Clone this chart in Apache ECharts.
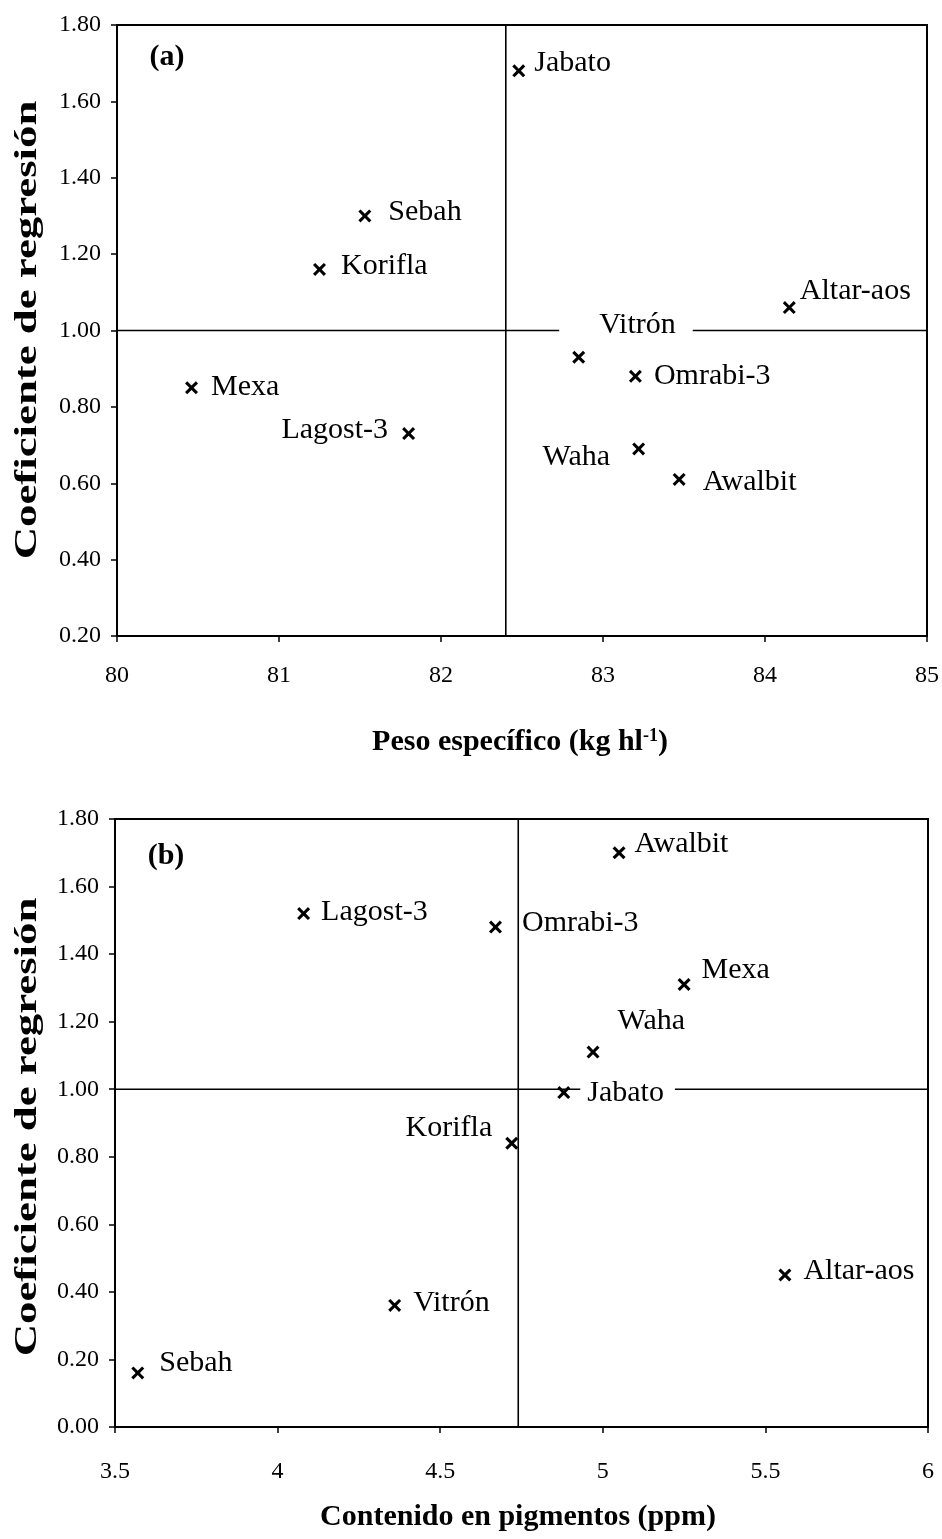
<!DOCTYPE html>
<html>
<head>
<meta charset="utf-8">
<title>Coeficiente de regresión</title>
<script src="https://cdn.jsdelivr.net/npm/echarts@6/dist/echarts.min.js"></script>
<style>
  html, body { margin: 0; padding: 0; background: #fff; }
  #chart { width: 942px; height: 1539px; }
</style>
</head>
<body>
<div id="chart"></div>
<script>
// ---- data: panel (a) peso específico vs coeficiente de regresión ----
const cultivaresA = ['Jabato', 'Sebah', 'Korifla', 'Altar-aos', 'Vitrón', 'Omrabi-3', 'Waha', 'Awalbit', 'Mexa', 'Lagost-3'];
const pesoEspecifico = [82.48, 81.53, 81.25, 84.15, 82.85, 83.20, 83.22, 83.47, 80.46, 81.80];
const coefA = [1.68, 1.30, 1.16, 1.06, 0.93, 0.88, 0.69, 0.61, 0.85, 0.73];
const referenciaA = [82.4, 1.0];          // vertical (x) and horizontal (y) reference lines
const ejeXA = [80, 85, 1];                // min, max, interval
const ejeYA = [0.2, 1.8, 0.2];

// ---- data: panel (b) contenido en pigmentos vs coeficiente de regresión ----
const cultivaresB = ['Awalbit', 'Lagost-3', 'Omrabi-3', 'Mexa', 'Waha', 'Jabato', 'Korifla', 'Altar-aos', 'Vitrón', 'Sebah'];
const pigmentos = [5.05, 4.08, 4.67, 5.25, 4.97, 4.88, 4.72, 5.56, 4.36, 3.57];
const coefB = [1.70, 1.52, 1.48, 1.31, 1.11, 0.99, 0.84, 0.45, 0.36, 0.16];
const referenciaB = [4.74, 1.0];
const ejeXB = [3.5, 6, 0.5];
const ejeYB = [0, 1.8, 0.2];

// ---- label placement (position, distance, shift [dx, dy], optional white box padding) ----
const etiquetasA = {
  'Jabato':    ['right', 9,  [0, -8]],
  'Sebah':     ['right', 17, [0, -4]],
  'Korifla':   ['right', 15, [0, -3]],
  'Altar-aos': ['right', 4,  [0, -16]],
  'Vitrón':    ['right', -26, [0, -32], [0, 17, 0, 40]],
  'Omrabi-3':  ['right', 12, [0, 0]],
  'Waha':      ['left',  22, [0, 8]],
  'Awalbit':   ['right', 17, [0, 3]],
  'Mexa':      ['right', 13, [0, -1]],
  'Lagost-3':  ['left',  14, [0, -3]]
};
const etiquetasB = {
  'Awalbit':   ['right', 9,  [0, -9]],
  'Lagost-3':  ['right', 11, [0, -1]],
  'Omrabi-3':  ['right', 20, [0, -4]],
  'Mexa':      ['right', 11, [0, -14]],
  'Waha':      ['right', 18, [0, -31]],
  'Jabato':    ['right', 10, [0, 1], [0, 11, 0, 7]],
  'Korifla':   ['left',  13, [0, -15]],
  'Altar-aos': ['right', 12, [0, -4]],
  'Vitrón':    ['right', 12, [0, -2]],
  'Sebah':     ['right', 15, [0, -10]]
};

const SERIF = '"Liberation Serif", "Times New Roman", serif';
const CRUZ = 'path://M2,0 L6,4 L10,0 L12,2 L8,6 L12,10 L10,12 L6,8 L2,12 L0,10 L4,6 L0,2 Z';

function puntos(nombres, xs, ys, etiquetas) {
  return nombres.map((n, i) => {
    const e = etiquetas[n];
    const label = { show: true, position: e[0], distance: e[1] };
    if (e[3]) {
      label.backgroundColor = '#fff';
      label.padding = e[3];
    }
    return { name: n, value: [xs[i], ys[i]], label: label };
  });
}

function ejeX(idx, rango, margen) {
  return {
    type: 'value', gridIndex: idx,
    min: rango[0], max: rango[1], interval: rango[2],
    axisLine: { show: true, onZero: false, lineStyle: { color: '#000', width: 2 } },
    axisTick: { show: true, inside: false, length: 6, lineStyle: { color: '#000', width: 1.5 } },
    axisLabel: { color: '#000', fontFamily: SERIF, fontSize: 24, margin: margen },
    splitLine: { show: false }
  };
}
function ejeY(idx, rango) {
  return {
    type: 'value', gridIndex: idx,
    min: rango[0], max: rango[1], interval: rango[2],
    axisLine: { show: true, onZero: false, lineStyle: { color: '#000', width: 2 } },
    axisTick: { show: true, inside: false, length: 6, lineStyle: { color: '#000', width: 1.5 } },
    axisLabel: { color: '#000', fontFamily: SERIF, fontSize: 24, margin: 16,
                 formatter: v => v.toFixed(2) },
    splitLine: { show: false }
  };
}
function dispersion(idx, nombres, datos, etiquetas) {
  return {
    type: 'scatter', xAxisIndex: idx, yAxisIndex: idx, z: 3,
    symbol: CRUZ, symbolSize: 13,
    itemStyle: { color: '#000', opacity: 1 },
    label: { show: true, formatter: '{b}', color: '#000', fontFamily: SERIF, fontSize: 30 },
    labelLayout: p => {
      const d = etiquetas[nombres[p.dataIndex]][2];
      return { dx: d[0], dy: d[1], hideOverlap: false };
    },
    data: datos
  };
}
function linea(idx, datos) {
  return {
    type: 'line', xAxisIndex: idx, yAxisIndex: idx, z: 1,
    showSymbol: false, silent: true,
    lineStyle: { color: '#000', width: 1.6 },
    data: datos
  };
}

const option = {
  animation: false,
  backgroundColor: '#fff',
  grid: [
    { left: 117, top: 25, width: 812, height: 611, show: true, borderColor: '#000', borderWidth: 2 },
    { left: 115, top: 819, width: 813, height: 608, show: true, borderColor: '#000', borderWidth: 2 }
  ],
  xAxis: [ejeX(0, ejeXA, 28), ejeX(1, ejeXB, 33)],
  yAxis: [ejeY(0, ejeYA), ejeY(1, ejeYB)],
  series: [
    linea(0, [[referenciaA[0], ejeYA[0]], [referenciaA[0], ejeYA[1]]]),
    linea(0, [[ejeXA[0], referenciaA[1]], [ejeXA[1], referenciaA[1]]]),
    dispersion(0, cultivaresA, puntos(cultivaresA, pesoEspecifico, coefA, etiquetasA), etiquetasA),
    linea(1, [[referenciaB[0], ejeYB[0]], [referenciaB[0], ejeYB[1]]]),
    linea(1, [[ejeXB[0], referenciaB[1]], [ejeXB[1], referenciaB[1]]]),
    dispersion(1, cultivaresB, puntos(cultivaresB, pigmentos, coefB, etiquetasB), etiquetasB)
  ],
  graphic: [
    { type: 'text', x: 167, y: 57, style: { text: '(a)', font: 'bold 30px ' + SERIF, fill: '#000', align: 'center', verticalAlign: 'middle' } },
    { type: 'text', x: 166, y: 856, style: { text: '(b)', font: 'bold 30px ' + SERIF, fill: '#000', align: 'center', verticalAlign: 'middle' } },
    { type: 'text', x: 28, y: 330, rotation: Math.PI / 2, scaleX: 1.4,
      style: { text: 'Coeficiente de regresión', font: 'bold 32px ' + SERIF, fill: '#000', align: 'center', verticalAlign: 'middle' } },
    { type: 'text', x: 28, y: 1127, rotation: Math.PI / 2, scaleX: 1.4,
      style: { text: 'Coeficiente de regresión', font: 'bold 32px ' + SERIF, fill: '#000', align: 'center', verticalAlign: 'middle' } },
    { type: 'text', x: 520, y: 742,
      style: {
        text: '{a|Peso específico (kg hl}{s|-1}{a|)}',
        fill: '#000', align: 'center', verticalAlign: 'middle',
        rich: {
          a: { fontFamily: SERIF, fontWeight: 'bold', fontSize: 30, fill: '#000' },
          s: { fontFamily: SERIF, fontWeight: 'bold', fontSize: 18, fill: '#000', verticalAlign: 'top', lineHeight: 30 }
        }
      } },
    { type: 'text', x: 518, y: 1517,
      style: { text: 'Contenido en pigmentos (ppm)', font: 'bold 30px ' + SERIF, fill: '#000', align: 'center', verticalAlign: 'middle' } }
  ]
};

echarts.init(document.getElementById('chart')).setOption(option);
</script>
</body>
</html>
